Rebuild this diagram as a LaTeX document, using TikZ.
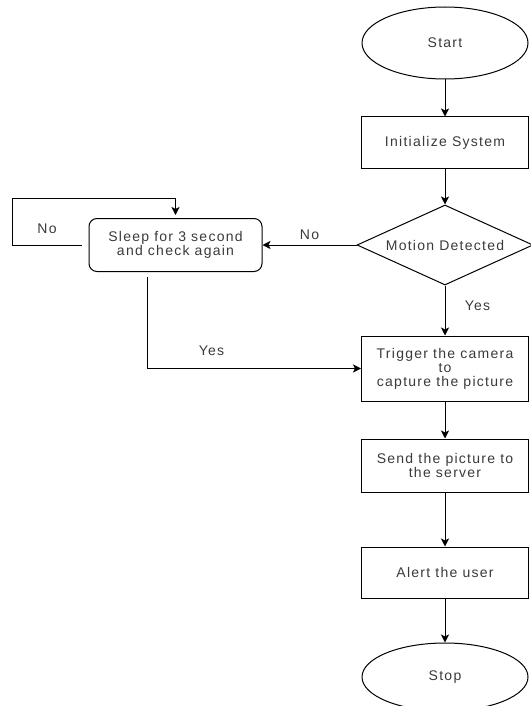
\documentclass[tikz,border=0pt]{standalone}
\usepackage{fontspec}
\setmainfont[LetterSpace=9]{Liberation Sans}
\usepackage{xcolor}
\usepackage{tikz}
\usetikzlibrary{shapes,arrows,arrows.meta,positioning,calc}

\definecolor{txtgray}{HTML}{3A3A3A}

\begin{document}
\begin{tikzpicture}[
  x=1pt, y=1pt,
  node distance=37pt and 94pt,
  font=\fontsize{14}{14}\selectfont, text=txtgray,
  step box/.style={rectangle, draw=black, line width=1pt, minimum width=167pt, minimum height=51pt, align=center, inner sep=2pt},
  terminal/.style={ellipse, draw=black, line width=1pt, minimum width=166pt, minimum height=72pt},
  decision/.style={diamond, draw=black, line width=1pt, minimum width=176pt, minimum height=80pt, aspect=2.2, inner sep=0pt},
  waitbox/.style={rectangle, draw=black, line width=1pt, rounded corners=8pt, minimum width=173pt, minimum height=53pt, align=center},
  arrow/.style={-{Stealth[length=8pt, width=8pt, inset=2pt]}, line width=1pt}
]
  \useasboundingbox (0,0) rectangle (530,-706);
  \node[terminal] (start) at (445,-43) {Start};
  \node[step box, below=of start] (init) {Initialize System};
  \node[decision, below=36pt of init] (motion) {Motion Detected};
  \node[waitbox, left=of motion] (sleep) {Sleep for 3 second\\and check again};
  \node[step box, below=50pt of motion, minimum height=65pt] (trigger) {Trigger the camera\\to\\capture the picture};
  \node[step box, below=of trigger, minimum height=53pt] (send) {Send the picture to\\the server};
  \node[step box, below=54pt of send] (alert) {Alert the user};
  \node[terminal, below=44pt of alert, minimum height=68pt] (stop) {Stop};
  \draw[arrow] (start) -- (init);
  \draw[arrow] (init) -- (motion);
  \draw[arrow] (motion) -- node[pos=0.4, right=16pt] {Yes} (trigger);
  \draw[arrow] (motion) -- node[above=2pt] {No} (sleep);
  \draw[arrow, shorten >=3pt] ([xshift=-7pt]sleep.west) -- node[above=8pt] {No} ++(-69,0) |- ([yshift=20pt]sleep.north) -- (sleep.north);
  \draw[arrow] ([xshift=-28pt, yshift=-5pt]sleep.south) |- node[pos=0.65, above=9pt] {Yes} (trigger.west);
  \draw[arrow] (trigger) -- (send);
  \draw[arrow] (send) -- (alert);
  \draw[arrow] (alert) -- (stop);
\end{tikzpicture}
\end{document}
